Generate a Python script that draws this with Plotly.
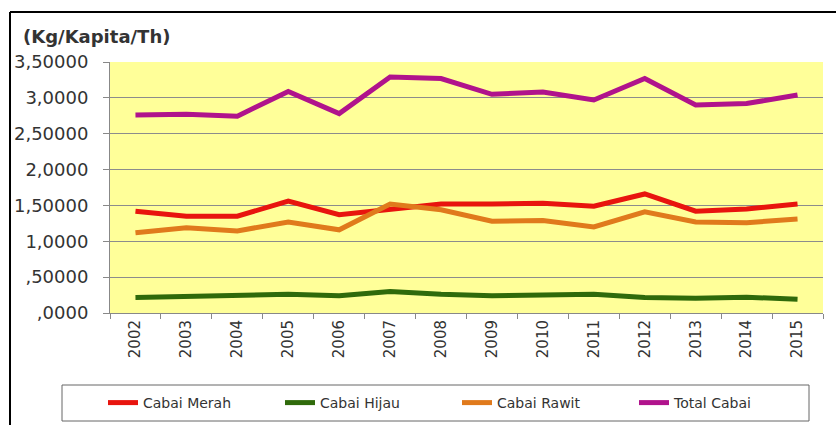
import plotly.graph_objects as go

years = [str(y) for y in range(2002, 2016)]
cabai_merah = [1.42, 1.35, 1.35, 1.56, 1.37, 1.45, 1.52, 1.52, 1.53, 1.49, 1.66, 1.42, 1.45, 1.52]
cabai_hijau = [0.215, 0.225, 0.24, 0.26, 0.24, 0.30, 0.26, 0.24, 0.25, 0.26, 0.215, 0.205, 0.22, 0.19]
cabai_rawit = [1.12, 1.19, 1.145, 1.27, 1.16, 1.52, 1.44, 1.28, 1.29, 1.20, 1.41, 1.27, 1.26, 1.31]
total_cabai = [2.76, 2.77, 2.745, 3.09, 2.78, 3.29, 3.27, 3.05, 3.08, 2.97, 3.27, 2.90, 2.92, 3.04]

y_tickvals = [0, 0.5, 1.0, 1.5, 2.0, 2.5, 3.0, 3.5]
y_ticktext = [",0000", ",50000", "1,0000", "1,50000", "2,0000", "2,50000", "3,0000", "3,50000"]

series = [
    ("Cabai Merah", cabai_merah, "#E8140E"),
    ("Cabai Hijau", cabai_hijau, "#2F6A0B"),
    ("Cabai Rawit", cabai_rawit, "#E07A1C"),
    ("Total Cabai", total_cabai, "#B0138C"),
]

fig = go.Figure()
for name, vals, col in series:
    fig.add_trace(go.Scatter(x=years, y=vals, name=name, mode="lines",
                             line=dict(color=col, width=5)))

fig.update_layout(
    width=836, height=425,
    margin=dict(l=110, r=13, t=62, b=112, autoexpand=False),
    paper_bgcolor="white",
    plot_bgcolor="#FFFF99",
    font=dict(family="DejaVu Sans", color="#333333"),
    showlegend=True,
    legend=dict(orientation="h", xref="container", yref="container",
                x=103 / 836, xanchor="left", y=1 - 403 / 425, yanchor="middle",
                entrywidth=132, entrywidthmode="pixels",
                font=dict(family="DejaVu Sans", size=14, color="#333333"),
                bgcolor="rgba(0,0,0,0)", borderwidth=0,
                traceorder="normal"),
    xaxis=dict(type="category", range=[-0.5, 13.5], tickson="boundaries",
               ticks="outside", ticklen=5, tickcolor="#888888",
               showline=True, linecolor="#888888", linewidth=1,
               showgrid=False, tickangle=-90, automargin=False,
               tickfont=dict(family="DejaVu Sans", size=15, color="#333333")),
    yaxis=dict(range=[0, 3.5], tickvals=y_tickvals, ticktext=y_ticktext,
               ticks="outside", ticklen=6, tickcolor="#888888",
               showline=True, linecolor="#888888", linewidth=1,
               showgrid=True, gridcolor="#8C8C8C", gridwidth=1,
               zeroline=False, ticklabelstandoff=11, automargin=False,
               tickfont=dict(family="DejaVu Sans", size=18, color="#333333")),
)

# legend frame
fig.add_shape(type="rect", xref="paper", yref="paper",
              x0=(62 - 110) / 713, x1=(809 - 110) / 713,
              y0=-(421 - 313) / 251, y1=-(385 - 313) / 251,
              line=dict(color="#666666", width=1), fillcolor="rgba(0,0,0,0)")

# outer border (left and top edges visible)
fig.add_shape(type="line", xref="paper", yref="paper",
              x0=(10 - 110) / 713, x1=(10 - 110) / 713,
              y0=-(430 - 313) / 251, y1=(313 - 12) / 251,
              line=dict(color="black", width=2))
fig.add_shape(type="line", xref="paper", yref="paper",
              x0=(10 - 110) / 713, x1=(840 - 110) / 713,
              y0=(313 - 12) / 251, y1=(313 - 12) / 251,
              line=dict(color="black", width=2))

fig.add_annotation(text="<b>(Kg/Kapita/Th)</b>", xref="paper", yref="paper",
                   x=(21 - 110) / 713, y=(313 - 36) / 251, xanchor="left", yanchor="middle",
                   showarrow=False, font=dict(family="DejaVu Sans", size=18, color="#333333"))

fig.write_html("out.html", config={"displayModeBar": False},
               post_script="document.body.style.margin='0';document.body.style.overflow='hidden';")
